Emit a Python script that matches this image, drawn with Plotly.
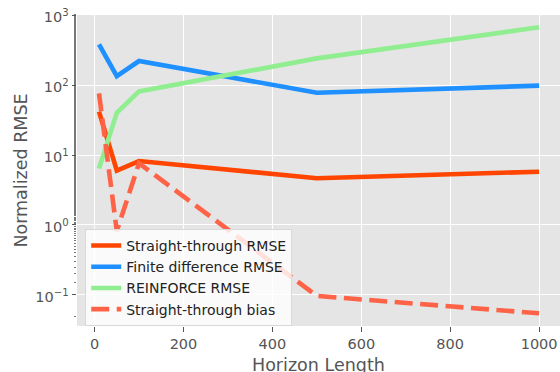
import plotly.graph_objects as go

horizon = [10, 50, 100, 500, 1000]
st_rmse = [41.6, 6.0, 8.2, 4.65, 5.77]
fd_rmse = [381, 134, 220, 77.6, 97.8]
rf_rmse = [6.4, 40.0, 81, 240, 667]
st_bias = [76, 0.82, 7.6, 0.097, 0.0547]

series_names = ["Straight-through RMSE", "Finite difference RMSE", "REINFORCE RMSE", "Straight-through bias"]

x_ticks = [0, 200, 400, 600, 800, 1000]
y_ticks = [0.1, 1, 10, 100, 1000]
y_ticktext = ["10<sup>−1</sup>", "10<sup>0</sup>", "10<sup>1</sup>", "10<sup>2</sup>", "10<sup>3</sup>"]
x_title = "Horizon Length"
y_title = "Normalized RMSE"

FONT = "DejaVu Sans"
LW = 4.6
FS = 14.5
LFS = 14
TFS = 17.5

fig = go.Figure()
fig.add_trace(go.Scatter(x=horizon, y=st_rmse, mode="lines", name=series_names[0],
                         line=dict(color="#FF4500", width=LW)))
fig.add_trace(go.Scatter(x=horizon, y=fd_rmse, mode="lines", name=series_names[1],
                         line=dict(color="#1E90FF", width=LW)))
fig.add_trace(go.Scatter(x=horizon, y=rf_rmse, mode="lines", name=series_names[2],
                         line=dict(color="#90EE90", width=LW)))
fig.add_trace(go.Scatter(x=horizon, y=st_bias, mode="lines", name=series_names[3],
                         line=dict(color="#FF6347", width=LW, dash="18px,7.5px")))

fig.update_layout(
    width=560, height=372,
    margin=dict(l=77, r=0, t=15, b=46),
    paper_bgcolor="white",
    plot_bgcolor="#E5E5E5",
    font=dict(family=FONT, size=FS, color="#555555"),
    showlegend=True,
    legend=dict(
        x=0.017, y=0.312, xanchor="left", yanchor="top",
        bgcolor="rgba(255,255,255,0.8)",
        bordercolor="#D8D8D8", borderwidth=1,
        font=dict(family=FONT, size=LFS, color="#222222"),
        tracegroupgap=0,
    ),
    xaxis=dict(
        range=[-39.5, 1047],
        automargin=False,
        tickmode="array", tickvals=x_ticks,
        ticklabeloverflow="allow",
        showgrid=True, gridcolor="white", gridwidth=1,
        zeroline=False, showline=False,
        ticks="outside", ticklen=4.5, tickwidth=1, tickcolor="#555555",
        tickfont=dict(family=FONT, size=FS, color="#555555"),
    ),
    yaxis=dict(
        type="log",
        range=[-1.443, 3.0],
        automargin=False,
        tickmode="array", tickvals=y_ticks, ticktext=y_ticktext,
        ticklabeloverflow="allow",
        ticklabelshift=2,
        showgrid=True, gridcolor="white", gridwidth=1,
        zeroline=False, showline=False,
        ticks="outside", ticklen=4.5, tickwidth=1, tickcolor="#555555",
        tickfont=dict(family=FONT, size=FS, color="#555555"),
        minor=dict(ticks="outside", ticklen=2.2, tickwidth=1, tickcolor="#777777", showgrid=False),
        title=dict(text=y_title, font=dict(family=FONT, size=TFS, color="#555555"), standoff=3),
    ),
    annotations=[dict(
        text=x_title, xref="paper", yref="paper", x=0.501, y=-0.127,
        xanchor="center", yanchor="middle", showarrow=False,
        font=dict(family=FONT, size=TFS, color="#555555"),
    )],
)

# remove the browser's default 8px body margin so the figure fills the window exactly
fig.write_html(
    "out.html",
    config={"displayModeBar": False},
    post_script="document.body.style.margin='0';document.body.style.overflow='hidden';",
)
